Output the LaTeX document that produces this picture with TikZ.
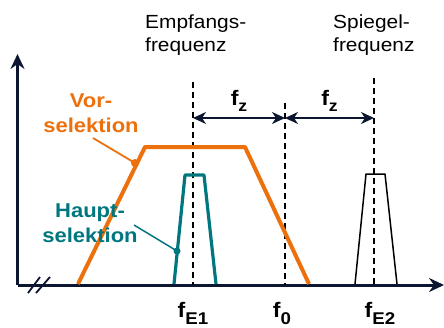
\documentclass[tikz,border=0pt]{standalone}
\usepackage{fontspec}
\setmainfont{Liberation Sans}[FakeStretch=1.1]
\usetikzlibrary{arrows.meta}
\definecolor{axisnavy}{RGB}{12,22,48}
\definecolor{vororange}{RGB}{236,112,12}
\definecolor{hauptteal}{RGB}{0,118,126}
\tikzset{
  axisline/.style={draw=axisnavy,line width=3pt},
  dimarrow/.style={draw=axisnavy,line width=1.5pt,{Stealth[length=13pt,width=12pt,inset=4pt]}-{Stealth[length=13pt,width=12pt,inset=4pt]}},
  freqline/.style={draw=black,line width=1.4pt,dash pattern=on 6pt off 4pt},
  label/.style={font=\fontsize{19}{23}\selectfont,inner sep=0pt},
  boldlabel/.style={font=\fontsize{20}{23}\selectfont\bfseries,inner sep=0pt},
  flabel/.style={font=\fontsize{21}{24}\selectfont\bfseries,inner sep=0pt,anchor=base},
}
\begin{document}
\begin{tikzpicture}[x=1pt,y=-1pt]
\useasboundingbox (0,0) rectangle (444,327);
% axes
\coordinate (o) at (17.5,285);
\coordinate (ytip) at (17.5,54);
\coordinate (xtip) at (444,285);
\draw[axisline,-{Stealth[length=15pt,width=14pt,inset=5pt]}] (o) -- (ytip);
\draw[axisline,-{Stealth[length=15pt,width=14pt,inset=5pt]}] (o) -- (xtip);
% break marks
\coordinate (b1a) at (28,293); \coordinate (b1b) at (40,277);
\coordinate (b2a) at (36,293); \coordinate (b2b) at (50,277);
\draw[axisnavy,line width=1.8pt] (b1a) -- (b1b) (b2a) -- (b2b);
% dashed frequency lines
\coordinate (fe1top) at (193,82);  \coordinate (fe1bot) at (193,285);
\coordinate (f0top) at (285,103);  \coordinate (f0bot) at (285,285);
\coordinate (fe2top) at (374,78);  \coordinate (fe2bot) at (374,285);
\draw[freqline] (fe1top) -- (fe1bot);
\draw[freqline] (f0top) -- (f0bot);
\draw[freqline] (fe2top) -- (fe2bot);
% dimension arrows
\coordinate (d1) at (193,118); \coordinate (d2) at (285,118); \coordinate (d3) at (374,118);
\draw[dimarrow] (d1) -- node[above=6pt,flabel,anchor=south]{f\raisebox{-6pt}{\fontsize{16}{18}\selectfont z}} (d2);
\draw[dimarrow] (d2) -- node[above=6pt,flabel,anchor=south]{f\raisebox{-6pt}{\fontsize{16}{18}\selectfont z}} (d3);
% Vorselektion (orange)
\coordinate (v1) at (78,284); \coordinate (v2) at (145,147);
\coordinate (v3) at (245,147); \coordinate (v4) at (309,284);
\draw[vororange,line width=4pt,line join=round] (v1) -- (v2) -- (v3) -- (v4);
% Hauptselektion (teal)
\coordinate (h1) at (174,284); \coordinate (h2) at (185,175);
\coordinate (h3) at (204,175); \coordinate (h4) at (216,284);
\draw[hauptteal,line width=3.2pt,line join=round] (h1) -- (h2) -- (h3) -- (h4);
% image filter (black)
\coordinate (s1) at (355,284); \coordinate (s2) at (366,174);
\coordinate (s3) at (385,174); \coordinate (s4) at (397,284);
\draw[black,line width=1.5pt,line join=round] (s1) -- (s2) -- (s3) -- (s4);
% labels
\node[label,anchor=base west] (emp1) at (145,28) {Empfangs-};
\node[label,anchor=base west] (emp2) at (145,51) {frequenz};
\node[label,anchor=base west] (sp1) at (333,28) {Spiegel-};
\node[label,anchor=base west] (sp2) at (333,51) {frequenz};
\node[boldlabel,text=vororange,anchor=base] (vor1) at (91,107) {Vor-};
\node[boldlabel,text=vororange,anchor=base] (vor2) at (91,132) {selektion};
\node[boldlabel,text=hauptteal,anchor=base] (hs1) at (90,217) {Haupt-};
\node[boldlabel,text=hauptteal,anchor=base] (hs2) at (90,242) {selektion};
% leaders
\coordinate (vdot) at (135,163);
\coordinate (vlead) at (93,138);
\draw[vororange,line width=1.8pt] (vlead) -- (vdot);
\fill[vororange] (vdot) circle (4pt);
\coordinate (hdot) at (177,251);
\coordinate (hlead) at (134,225);
\draw[hauptteal,line width=1.5pt] (hlead) -- (hdot);
\fill[hauptteal] (hdot) circle (3.5pt);
% frequency labels
\node[flabel] (lfe1) at (193,317) {f\raisebox{-7pt}{\fontsize{17}{18}\selectfont E1}};
\node[flabel] (lf0) at (282,317) {f\raisebox{-7pt}{\fontsize{17}{18}\selectfont 0}};
\node[flabel] (lfe2) at (380,317) {f\raisebox{-7pt}{\fontsize{17}{18}\selectfont E2}};
\end{tikzpicture}
\end{document}
